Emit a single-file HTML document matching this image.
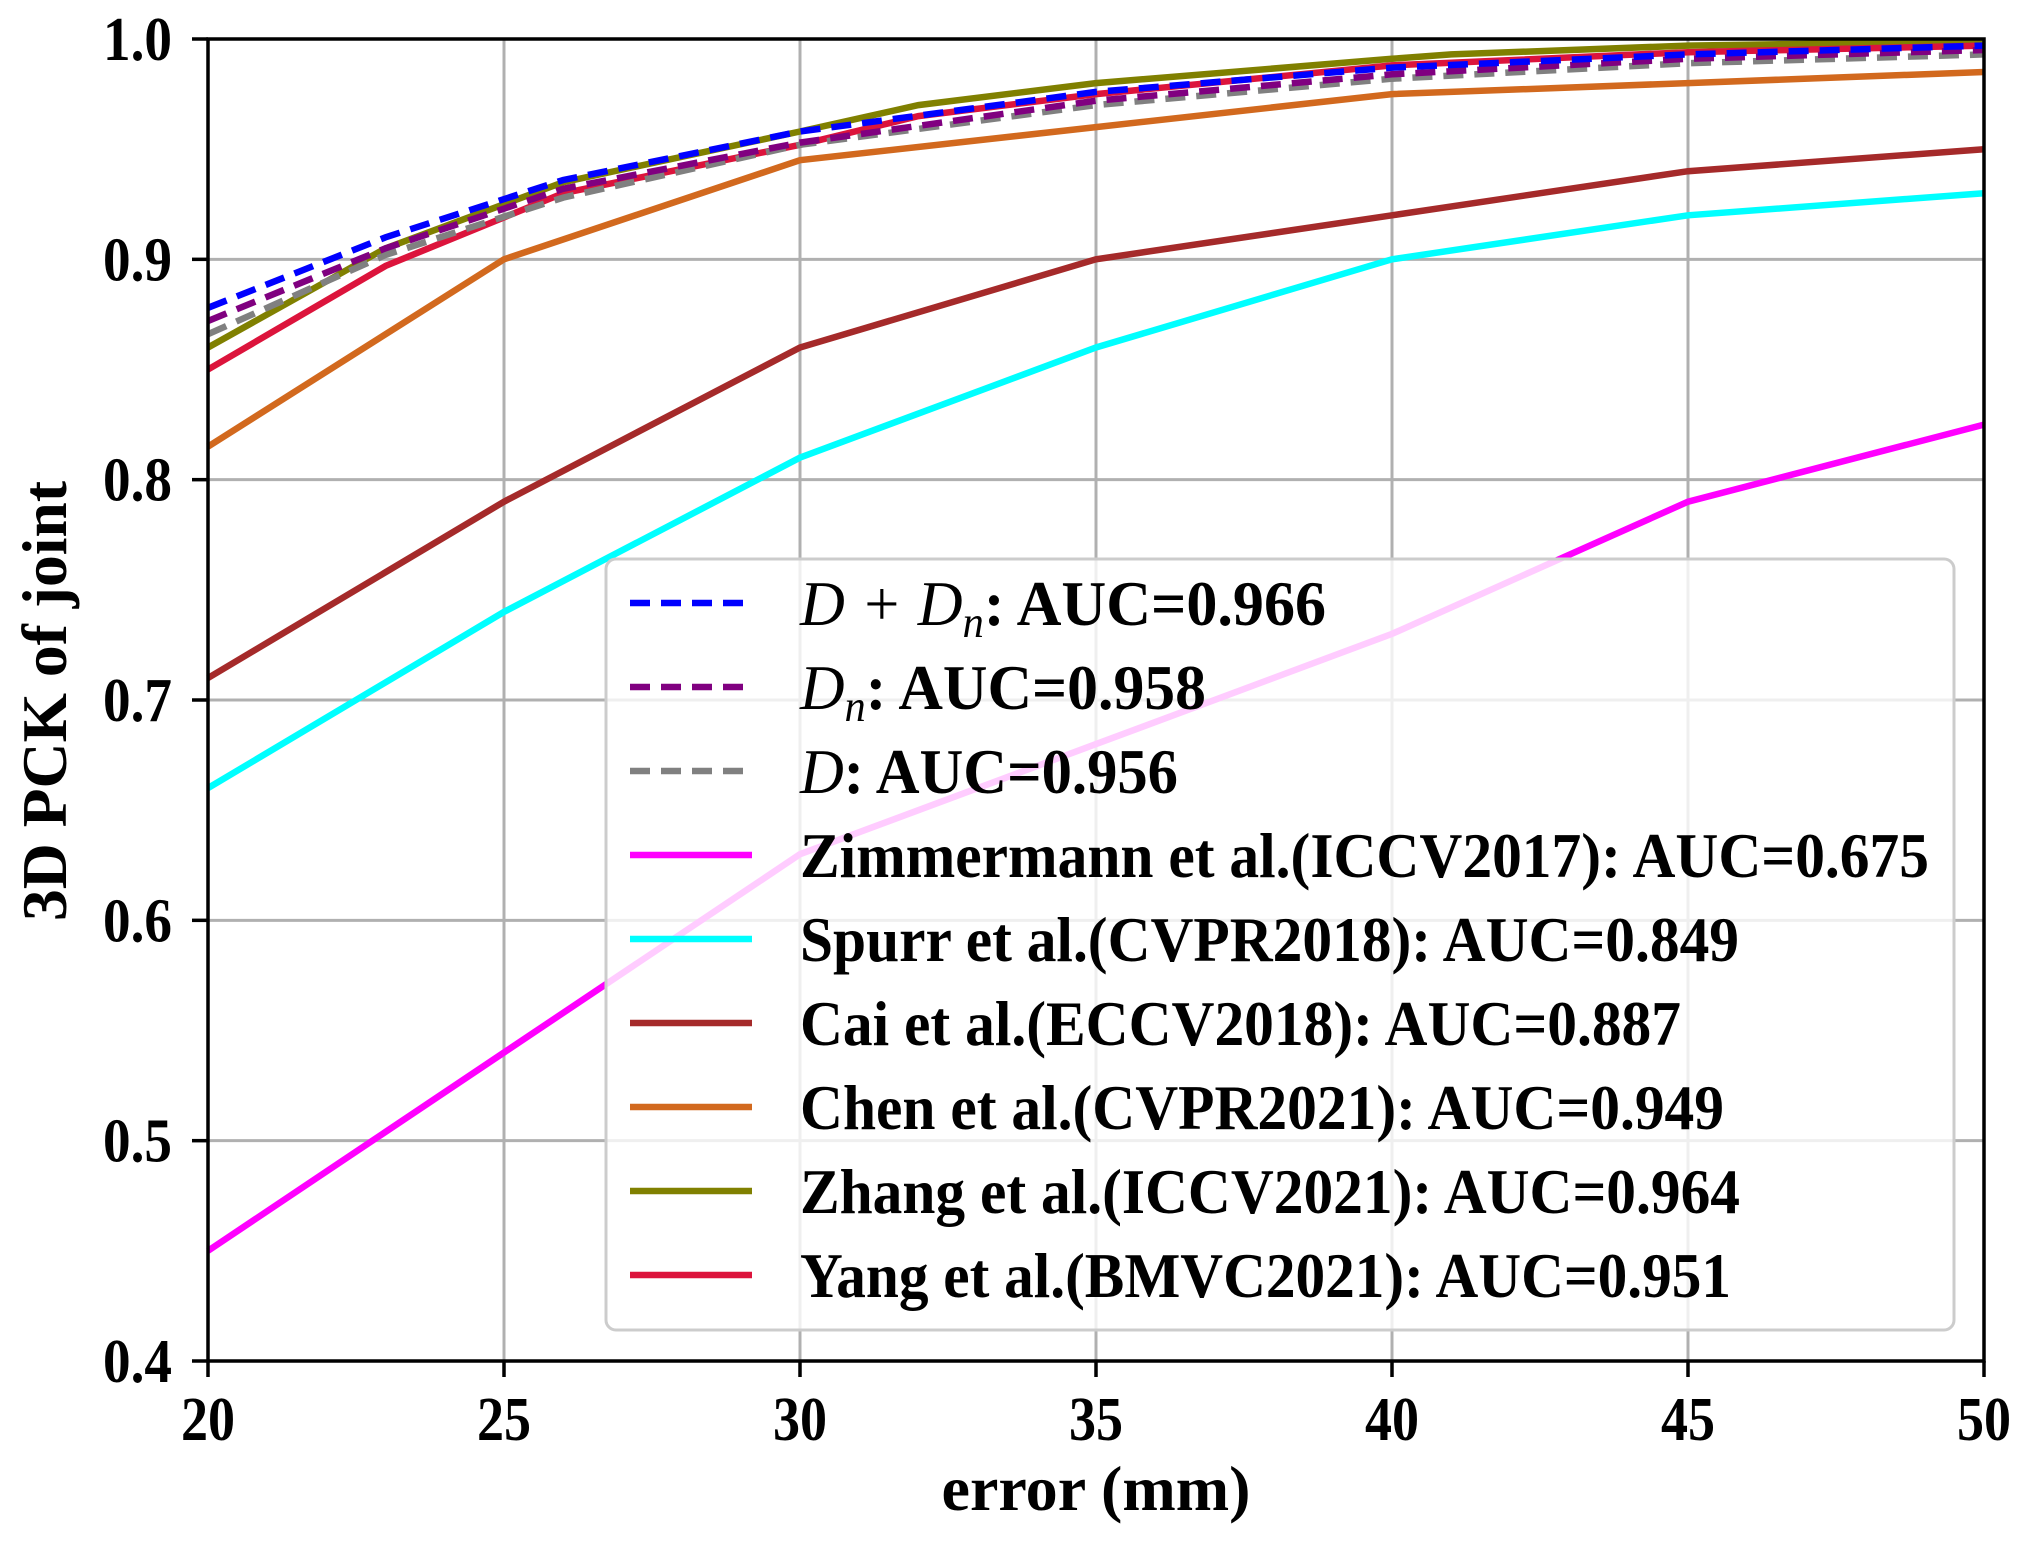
<!DOCTYPE html>
<html><head><meta charset="utf-8"><style>
html,body{margin:0;padding:0;background:#fff}
svg{display:block}
text{font-family:"Liberation Serif",serif;font-weight:bold;fill:#000}
</style></head><body>
<svg id="s" width="2029" height="1543" viewBox="0 0 2029 1543" xmlns="http://www.w3.org/2000/svg"></svg>
<script>
const s=document.getElementById('s');
const X0=208,X1=1984,Y0=39,Y1=1361;
const fx=x=>X0+(x-20)*(X1-X0)/30, fy=y=>Y1-(y-0.4)*(Y1-Y0)/0.6;
let h='';
for(let x=20;x<=50;x+=5){h+=`<line x1="${fx(x)}" y1="${Y0}" x2="${fx(x)}" y2="${Y1}" stroke="#b0b0b0" stroke-width="3"/>`;}
for(let i=4;i<=10;i++){let y=i/10;h+=`<line x1="${X0}" y1="${fy(y)}" x2="${X1}" y2="${fy(y)}" stroke="#b0b0b0" stroke-width="3"/>`;}
const D='20,11';
const S=[
['#ff00ff',null,[[20,.45],[25,.54],[30,.63],[35,.68],[40,.73],[45,.79],[50,.825]]],
['#00ffff',null,[[20,.66],[25,.74],[30,.81],[35,.86],[40,.9],[45,.92],[50,.93]]],
['#a52a2a',null,[[20,.71],[25,.79],[30,.86],[35,.9],[40,.92],[45,.94],[50,.95]]],
['#d2691e',null,[[20,.815],[25,.9],[30,.945],[35,.96],[40,.975],[45,.98],[50,.985]]],
['#808000',null,[[20,.86],[23,.905],[26,.935],[30,.958],[32,.97],[35,.98],[40,.991],[41,.993],[45,.997],[50,.999]]],
['#dc143c',null,[[20,.85],[23,.897],[26,.93],[30,.952],[32,.965],[35,.975],[40,.988],[45,.994],[50,.997]]],
['#808080',D,[[20,.866],[23,.902],[26,.928],[30,.952],[35,.97],[40,.982],[45,.989],[50,.993]]],
['#800080',D,[[20,.872],[23,.905],[26,.932],[30,.953],[35,.972],[40,.984],[45,.991],[50,.995]]],
['#0000ff',D,[[20,.878],[23,.91],[26,.936],[30,.958],[35,.976],[40,.987],[45,.993],[50,.997]]]
];
for(const [c,d,p] of S){h+=`<polyline fill="none" stroke="${c}" stroke-width="6.5"${d?` stroke-dasharray="${d}"`:''} points="${p.map(q=>fx(q[0]).toFixed(1)+','+fy(q[1]).toFixed(1)).join(' ')}"/>`;}
h+=`<rect x="606" y="559" width="1348" height="771" rx="10" fill="#fff" fill-opacity="0.8" stroke="#cccccc" stroke-width="3"/>`;
const B='style="font-style:normal;font-weight:bold"';
const L=[
['#0000ff',1,`D + D<tspan font-size="44" dy="12">n</tspan><tspan dy="-12" ${B}>: AUC=0.966</tspan>`,526],
['#800080',1,`D<tspan font-size="44" dy="12">n</tspan><tspan dy="-12" ${B}>: AUC=0.958</tspan>`,406],
['#808080',1,`D<tspan ${B}>: AUC=0.956</tspan>`,378],
['#ff00ff',0,'Zimmermann et al.(ICCV2017): AUC=0.675',1129],
['#00ffff',0,'Spurr et al.(CVPR2018): AUC=0.849',939],
['#a52a2a',0,'Cai et al.(ECCV2018): AUC=0.887',881],
['#d2691e',0,'Chen et al.(CVPR2021): AUC=0.949',924],
['#808000',0,'Zhang et al.(ICCV2021): AUC=0.964',940],
['#dc143c',0,'Yang et al.(BMVC2021): AUC=0.951',931]];
L.forEach((e,i)=>{const y=603+i*84;
h+=`<line x1="630" y1="${y}" x2="752" y2="${y}" stroke="${e[0]}" stroke-width="6.5"${e[1]?` stroke-dasharray="${D}"`:''}/>`;
h+=`<text x="800" y="${y+22}" font-size="64" textLength="${e[3]}" lengthAdjust="spacingAndGlyphs"${e[1]?' style="font-style:italic;font-weight:normal"':''}>${e[2]}</text>`;});
h+=`<rect x="${X0}" y="${Y0}" width="${X1-X0}" height="${Y1-Y0}" fill="none" stroke="#000" stroke-width="3.5"/>`;
for(let x=20;x<=50;x+=5){h+=`<line x1="${fx(x)}" y1="${Y1}" x2="${fx(x)}" y2="${Y1+16}" stroke="#000" stroke-width="3.5"/><text x="${fx(x)}" y="1440" font-size="62" text-anchor="middle" textLength="54" lengthAdjust="spacingAndGlyphs">${x}</text>`;}
for(let i=4;i<=10;i++){let y=fy(i/10);h+=`<line x1="${X0-16}" y1="${y}" x2="${X0}" y2="${y}" stroke="#000" stroke-width="3.5"/><text x="172" y="${y+21}" font-size="62" text-anchor="end" textLength="69" lengthAdjust="spacingAndGlyphs">${(i/10).toFixed(1)}</text>`;}
h+=`<text x="1096" y="1510" font-size="64" text-anchor="middle" textLength="309" lengthAdjust="spacingAndGlyphs">error (mm)</text>`;
h+=`<text transform="translate(66,701) rotate(-90)" font-size="64" text-anchor="middle" textLength="440" lengthAdjust="spacingAndGlyphs">3D PCK of joint</text>`;
s.innerHTML=h;
</script>
</body></html>
